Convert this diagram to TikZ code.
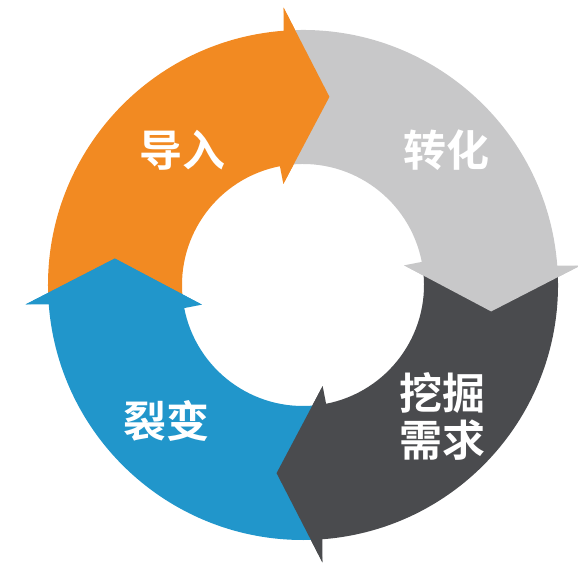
\documentclass[tikz,border=0pt]{standalone}
\usepackage{fontspec}
\newfontfamily\cjk{Noto Sans CJK SC}[BoldFont={Noto Sans CJK SC Bold}]
\definecolor{orangeseg}{HTML}{F28A22}
\definecolor{lightseg}{HTML}{C8C8C9}
\definecolor{darkseg}{HTML}{4A4B4E}
\definecolor{blueseg}{HTML}{2196CB}

\begin{document}
\begin{tikzpicture} [x=1pt, y=1pt, seglabel/.style={text=white, align=center, inner sep=0pt, font=\cjk\bfseries\fontsize{43}{47}\selectfont}]
\useasboundingbox (0,0) rectangle (578,572);
\begin{scope}[shift={(303,287)}]
% the four ring pieces, tail notch under the head before it
\foreach \a/\c in {82/orangeseg, -8/lightseg, -98/darkseg, 172/blueseg}{
\fill[\c] ({\a+101}:255pt) arc[start angle=\a+101, end angle=\a+12, radius=255pt] -- ({\a+12}:278pt) -- (\a:190pt) -- ({\a+19}:103pt) -- ({\a+19}:121pt) arc[start angle=\a+19, end angle=\a+104, radius=121pt] -- ({\a+93}:190pt) -- cycle;
}
% heads again on top
\foreach \a/\c in {82/orangeseg, -8/lightseg, -98/darkseg, 172/blueseg}{
\fill[\c] ({\a+12}:278pt) -- (\a:190pt) -- ({\a+19}:103pt) -- cycle;
}
\end{scope}
\node[seglabel] (import) at (182,422) {导入};
\node[seglabel] (convert) at (446,422) {转化};
\node[seglabel] (mine) at (442,156) {挖掘\\需求};
\node[seglabel] (split) at (166,151) {裂变};
\end{tikzpicture}
\end{document}
